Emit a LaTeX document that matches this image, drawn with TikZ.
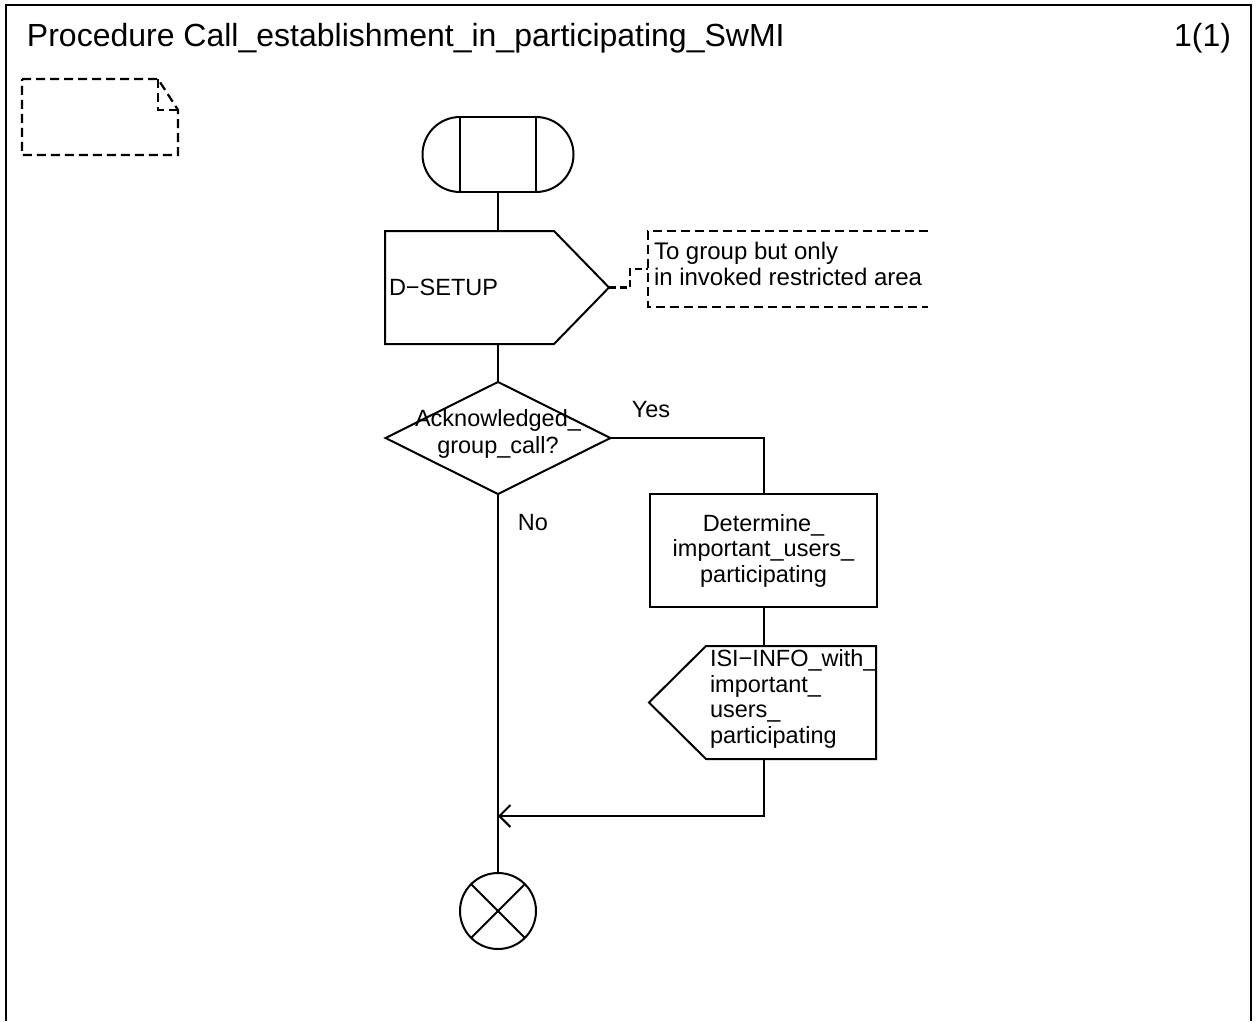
\documentclass[tikz,border=0pt]{standalone}
\usepackage{fontspec}
\setmainfont{Liberation Sans}
\usetikzlibrary{arrows.meta,shapes.geometric}
\begin{document}
\begin{tikzpicture}[x=1pt,y=-1pt,line width=2pt,
  lbl/.style={font=\fontsize{23.5}{25.5}\selectfont,inner sep=0pt},
  ghost/.style={inner sep=0pt,outer sep=0pt},
  notedash/.style={dash pattern=on 9pt off 5pt,line width=2.2pt},
  linkdash/.style={dash pattern=on 7pt off 4pt,line width=2.2pt},
  flow/.style={line width=2pt},
  tip/.style={-{Straight Barb[length=11pt,width=22pt,line width=2pt]}}]
\useasboundingbox (0,0) rectangle (1256,1021);
% frame
\draw[line width=2.6pt] (6,1021) -- (6,5) -- (1251,5) -- (1251,1021);
\node[anchor=base west,inner sep=0pt,font=\fontsize{32}{32}\selectfont] (title) at (26,46) {Procedure Call\_establishment\_in\_participating\_SwMI};
\node[anchor=base east,inner sep=0pt,font=\fontsize{32}{32}\selectfont] (page) at (1232,46) {1(1)};
% text symbol (dashed note)
\draw[notedash] (22,79) -- (158,79) -- (178,110) -- (178,155) -- (22,155) -- cycle;
\draw[notedash] (158,79) -- (158,110) -- (178,110);
% start
\node[draw,ghost,minimum width=76pt,minimum height=75pt] (start) at (498,154.5) {};
\draw (start.north east) arc[start angle=90,end angle=-90,radius=37.5pt];
\draw (start.south west) arc[start angle=270,end angle=90,radius=37.5pt];
% output D-SETUP
\node[ghost,minimum width=224pt,minimum height=113pt] (setup) at (497,287.5) {};
\draw (setup.north west) -- ([xshift=-55pt]setup.north east) -- (setup.east) -- ([xshift=-55pt]setup.south east) -- (setup.south west) -- cycle;
\node[lbl,anchor=west] (setuptext) at (388,287) {D−SETUP};
% comment
\node[ghost,minimum width=280pt,minimum height=76pt] (cmt) at (788,269) {};
\draw[notedash] (cmt.north east) -- (cmt.north west) -- (cmt.south west) -- (cmt.south east);
\node[lbl,anchor=west,align=left,font=\fontsize{24}{26}\selectfont] (cmttext) at (653,264) {To group but only\\in invoked restricted area};
\draw[linkdash] (setup.east) -- ++(21,0) |- (cmt.west);
% decision
\node[ghost,minimum width=225pt,minimum height=112pt] (dec) at (498,438) {};
\draw (dec.north) -- (dec.east) -- (dec.south) -- (dec.west) -- cycle;
\node[lbl,align=center,font=\fontsize{23.5}{27}\selectfont] (dectext) at (498,434) {Acknowledged\_\\group\_call?};
\node[lbl] (yes) at (651,410) {Yes};
\node[lbl] (no) at (533,523) {No};
% task
\node[draw,lbl,minimum width=227pt,minimum height=113pt,align=center] (task) at (763.5,550.5) {Determine\_\\important\_users\_\\participating};
% input ISI-INFO
\node[ghost,minimum width=227pt,minimum height=113pt] (isi) at (762.5,702.5) {};
\draw ([xshift=57pt]isi.north west) -- (isi.north east) -- (isi.south east) -- ([xshift=57pt]isi.south west) -- (isi.west) -- cycle;
\node[lbl,anchor=west,align=left] (isitext) at (709,699) {ISI−INFO\_with\_\\important\_\\users\_\\participating};
% end
\node[draw,circle,ghost,minimum size=76pt] (stop) at (498,911) {};
\draw (stop.north west) -- (stop.south east);
\draw (stop.north east) -- (stop.south west);
\coordinate (join) at (498,816);
% connectors
\draw[flow] (start.south) -- (start.south |- setup.north);
\draw[flow] (start.south |- setup.south) -- (dec.north);
\draw[flow] (dec.east) -| (task.north);
\draw[flow] (task.south) -- (task.south |- isi.north);
\draw[flow,tip] (task.south |- isi.south) |- (join);
\draw[flow] (dec.south) -- (stop.north);
\end{tikzpicture}
\end{document}
